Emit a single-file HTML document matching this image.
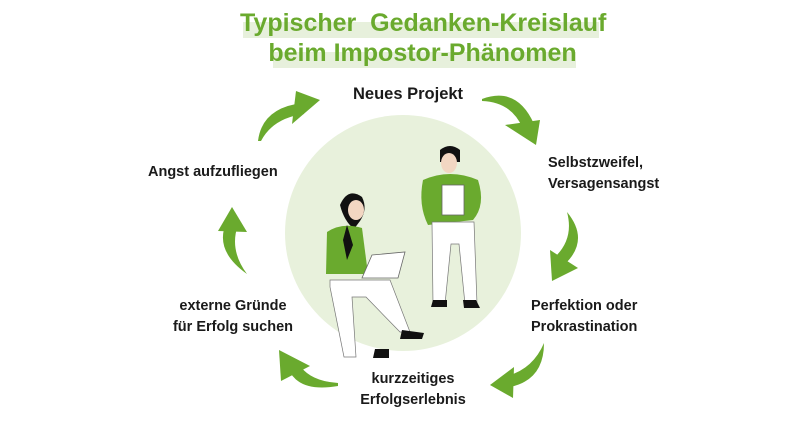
<!DOCTYPE html>
<html><head><meta charset="utf-8"><style>
body{margin:0;background:#fff;width:807px;height:424px;overflow:hidden;position:relative;font-family:"Liberation Sans",sans-serif}
.t{position:absolute;font-weight:bold;color:#1a1a1a;font-size:14.5px;line-height:21px;white-space:nowrap}
.h{position:absolute;font-weight:bold;color:#6aaa2e;font-size:25px;white-space:nowrap}
.bar{position:absolute;background:#e7f0dc}
</style></head><body>
<div class="bar" style="left:243px;top:22px;width:356px;height:16px"></div>
<div class="bar" style="left:273px;top:52px;width:303px;height:16px"></div>
<div class="h" style="left:240px;top:9px;width:365px;text-align:center">Typischer&nbsp; Gedanken-Kreislauf</div>
<div class="h" style="left:240px;top:39px;width:365px;text-align:center">beim Impostor-Phänomen</div>
<svg width="807" height="424" style="position:absolute;left:0;top:0">
<circle cx="403" cy="233" r="118" fill="#e8f1dc"/>
<g fill="#6aaa2e" stroke="none">
<path d="M482,99 Q517,86 534,124 L523,129 Q512,102 482,101Z"/><polygon points="540,120 536,145 505,125"/>
<path d="M567,212 Q590,240 565,264 L556,256 Q574,238 567,212Z"/><polygon points="550,250 578,268 552,281"/>
<path d="M544,343 Q544,380 510,387 L507,376 Q533,369 544,343Z"/><polygon points="514,367 513,398 490,385"/>
<path d="M338,386 Q298,393 288,368 L299,364 Q309,381 338,383Z"/><polygon points="281,381 310,366 279,350"/>
<path d="M247,274 Q213,250 227,221 L238,225 Q229,250 247,274Z"/><polygon points="218,231 247,232 232,207"/>
<path d="M258,141 Q262,108 302,103 L304,114 Q273,118 261,141Z"/><polygon points="296,91 320,100 292,124"/>
</g>
<!-- woman -->
<path d="M340,205 q8,-18 22,-8 q6,12 -2,24 l-6,8 q-10,-8 -14,-24z" fill="#111"/>
<ellipse cx="356" cy="210" rx="8" ry="10" fill="#f2d6c2"/>
<path d="M327,232 q15,-10 35,-4 l6,46 h-42z" fill="#6aaa2e"/>
<path d="M347,225 l6,20 -6,15 -4,-20z" fill="#111"/>
<polygon points="372,255 405,252 398,278 362,278" fill="#fff" stroke="#666" stroke-width="0.8"/>
<path d="M330,280 h60 l20,52 h-10 l-34,-35 -14,0 l4,60 h-12 l-14,-70z" fill="#fff" stroke="#777" stroke-width="0.7"/>
<path d="M375,349 h14 l0,9 h-16z M402,330 l22,3 -2,6 -22,0z" fill="#111"/>
<!-- man -->
<path d="M440,150 q10,-8 20,0 v12 h-20z" fill="#111"/>
<ellipse cx="449" cy="163" rx="8" ry="10" fill="#f2d6c2"/>
<path d="M423,180 q27,-12 55,0 q8,25 -5,40 l-45,5 q-10,-20 -5,-45z" fill="#6aaa2e"/>
<rect x="442" y="185" width="22" height="30" fill="#fff" stroke="#666" stroke-width="0.8"/>
<path d="M432,222 h42 l3,82 h-12 l-6,-60 -8,0 -6,60 h-12z" fill="#fff" stroke="#777" stroke-width="0.7"/>
<path d="M433,300 h14 v7 h-16z M463,300 h13 l4,8 h-16z" fill="#111"/>
</svg>
<div class="t" style="left:353px;top:84px;font-size:16.5px">Neues Projekt</div>
<div class="t" style="left:548px;top:153px">Selbstzweifel,<br>Versagensangst</div>
<div class="t" style="left:531px;top:296px">Perfektion oder<br>Prokrastination</div>
<div class="t" style="left:343px;top:369px;width:140px;text-align:center">kurzzeitiges<br>Erfolgserlebnis</div>
<div class="t" style="left:163px;top:296px;width:140px;text-align:center">externe Gründe<br>für Erfolg suchen</div>
<div class="t" style="left:148px;top:162px">Angst aufzufliegen</div>
</body></html>
